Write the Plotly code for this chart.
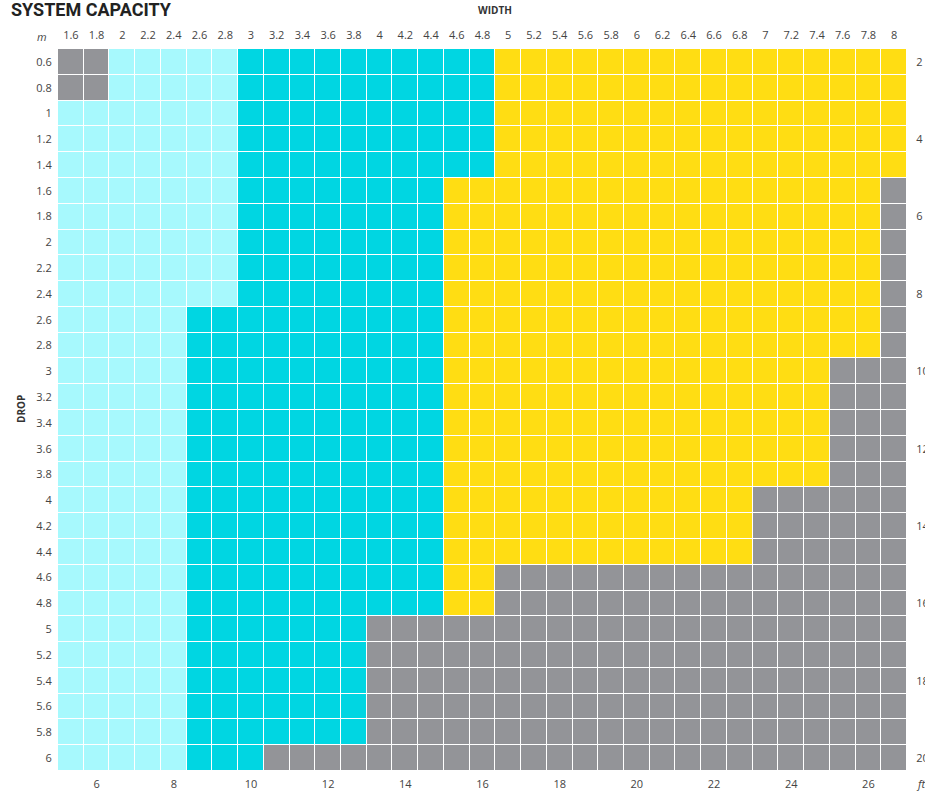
import plotly.graph_objects as go

# ---- data ----
widths_m = [1.6, 1.8, 2, 2.2, 2.4, 2.6, 2.8, 3, 3.2, 3.4, 3.6, 3.8, 4, 4.2, 4.4, 4.6, 4.8,
            5, 5.2, 5.4, 5.6, 5.8, 6, 6.2, 6.4, 6.6, 6.8, 7, 7.2, 7.4, 7.6, 7.8, 8]
width_labels = ["1.6", "1.8", "2", "2.2", "2.4", "2.6", "2.8", "3", "3.2", "3.4", "3.6", "3.8",
                "4", "4.2", "4.4", "4.6", "4.8", "5", "5.2", "5.4", "5.6", "5.8", "6", "6.2",
                "6.4", "6.6", "6.8", "7", "7.2", "7.4", "7.6", "7.8", "8"]
drops_m = [0.6, 0.8, 1, 1.2, 1.4, 1.6, 1.8, 2, 2.2, 2.4, 2.6, 2.8, 3, 3.2, 3.4, 3.6, 3.8,
           4, 4.2, 4.4, 4.6, 4.8, 5, 5.2, 5.4, 5.6, 5.8, 6]
drop_labels = ["0.6", "0.8", "1", "1.2", "1.4", "1.6", "1.8", "2", "2.2", "2.4", "2.6", "2.8",
               "3", "3.2", "3.4", "3.6", "3.8", "4", "4.2", "4.4", "4.6", "4.8", "5", "5.2",
               "5.4", "5.6", "5.8", "6"]

# per drop row: first width (m) of each zone; None = zone absent in that row
light_from = [2.0, 2.0] + [1.6] * 26
cyan_from = [3.0] * 10 + [2.6] * 18
yellow_from = [5.0] * 5 + [4.6] * 17 + [None] * 6
grey_from = [None] * 5 + [8.0] * 7 + [7.6] * 5 + [7.0] * 3 + [5.0] * 2 + [4.0] * 5 + [3.2]

width_ticks_ft = [6, 8, 10, 12, 14, 16, 18, 20, 22, 24, 26]
drop_ticks_ft = [2, 4, 6, 8, 10, 12, 14, 16, 18, 20]
M_PER_FT = 0.3  # nominal conversion used by the chart

# zone codes: 0 grey, 1 light cyan, 2 cyan, 3 yellow
z = []
for i, d in enumerate(drops_m):
    row = []
    for w in widths_m:
        if w < light_from[i] - 1e-9:
            v = 0
        elif grey_from[i] is not None and w >= grey_from[i] - 1e-9:
            v = 0
        elif yellow_from[i] is not None and w >= yellow_from[i] - 1e-9:
            v = 3
        elif w >= cyan_from[i] - 1e-9:
            v = 2
        else:
            v = 1
        row.append(v)
    z.append(row)

GREY = "#939498"
LIGHT = "#a7f9fd"
CYAN = "#00d6e2"
YELLOW = "#ffdd13"
colorscale = [[0, GREY], [1/6, GREY], [1/6, LIGHT], [0.5, LIGHT],
              [0.5, CYAN], [5/6, CYAN], [5/6, YELLOW], [1, YELLOW]]

fig = go.Figure()
fig.add_trace(go.Heatmap(
    x=widths_m, y=drops_m, z=z, zmin=0, zmax=3,
    colorscale=colorscale, showscale=False, xgap=1, ygap=1,
    hoverinfo="x+y",
))
# dummy trace to hold the feet axes
fig.add_trace(go.Scatter(x=[None], y=[None], xaxis="x2", yaxis="y2",
                         showlegend=False, hoverinfo="skip"))

tick_font = dict(family="Open Sans, Liberation Sans, sans-serif", size=11, color="#444444")
xr = [1.5, 8.1]
yr = [6.1, 0.5]

PX0, PY0 = 58, 49      # plot area top-left in page pixels
PW, PH = 849, 722      # plot area size

def px(xp):
    return (xp - PX0) / PW

def py(yp):
    return 1 - (yp - PY0) / PH

fig.update_layout(
    width=925, height=792,
    margin=dict(l=58, r=18, t=49, b=21, autoexpand=False),
    paper_bgcolor="white", plot_bgcolor="white",
    showlegend=False,
    xaxis=dict(range=xr, side="top", tickvals=widths_m, ticktext=width_labels,
               showgrid=False, zeroline=False, showline=False, fixedrange=True,
               ticks="outside", ticklen=5, tickcolor="rgba(0,0,0,0)",
               tickfont=tick_font, automargin=False),
    yaxis=dict(range=yr, tickvals=drops_m, ticktext=drop_labels,
               showgrid=False, zeroline=False, showline=False, fixedrange=True,
               ticks="outside", ticklen=3, tickcolor="rgba(0,0,0,0)",
               tickfont=tick_font, automargin=False),
    xaxis2=dict(range=[xr[0] / M_PER_FT, xr[1] / M_PER_FT], overlaying="x", side="bottom",
                anchor="y", tickvals=width_ticks_ft, ticktext=[str(v) for v in width_ticks_ft],
                showgrid=False, zeroline=False, showline=False, fixedrange=True,
                ticks="outside", ticklen=3, tickcolor="rgba(0,0,0,0)",
                tickfont=tick_font, automargin=False),
    yaxis2=dict(range=[yr[0] / M_PER_FT, yr[1] / M_PER_FT], overlaying="y", side="right",
                anchor="x", tickvals=drop_ticks_ft, ticktext=[str(v) for v in drop_ticks_ft],
                showgrid=False, zeroline=False, showline=False, fixedrange=True,
                ticks="outside", ticklen=6, tickcolor="rgba(0,0,0,0)",
                tickfont=tick_font, automargin=False),
    annotations=[
        dict(text="<b>SYSTEM CAPACITY</b>", xref="paper", yref="paper",
             x=px(9), y=py(9), xanchor="left", yanchor="middle",
             showarrow=False, font=dict(family="Roboto, DejaVu Sans", size=18, color="#222222")),
        dict(text="<b>WIDTH</b>", xref="paper", yref="paper",
             x=px(495), y=py(10), xanchor="center", yanchor="middle",
             showarrow=False, font=dict(family="Open Sans, sans-serif", size=10, color="#333333")),
        dict(text="<b>DROP</b>", xref="paper", yref="paper",
             x=px(21), y=py(409), xanchor="center", yanchor="middle",
             textangle=-90, showarrow=False,
             font=dict(family="Open Sans, sans-serif", size=10, color="#333333")),
        dict(text="<i>m</i>", xref="paper", yref="paper",
             x=px(42), y=py(36), xanchor="center", yanchor="middle",
             showarrow=False, font=dict(family="Open Sans, sans-serif", size=11, color="#444444")),
        dict(text="<i>ft</i>", xref="paper", yref="paper",
             x=px(921), y=py(783), xanchor="center", yanchor="middle",
             showarrow=False, font=dict(family="Open Sans, sans-serif", size=11, color="#444444")),
    ],
)

fig.write_html("out.html", config={"displayModeBar": False},
               post_script="document.body.style.margin='0px';")
